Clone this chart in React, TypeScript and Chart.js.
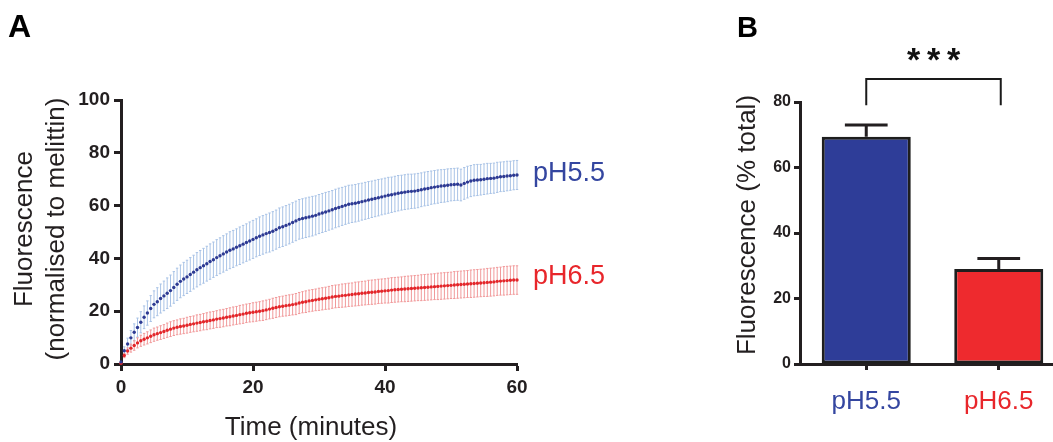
import React, { useEffect, useRef } from "react";
import { Chart, registerables } from "chart.js";
Chart.register(...registerables);

const FONT = "'Liberation Sans', Arial, Helvetica, sans-serif";
const INK = "#231f20";
const BLUE = "#2d3a93";
const RED = "#e3262a";
const BLUE_ERR = "#a9c3e6";
const RED_ERR = "#f19a9b";
const BLUE_TEXT = "#3446a0";
const RED_TEXT = "#e8262b";

// ---------- Panel A data ----------
const timeMinutes: number[] = [
  0, 0.5, 1, 1.5, 2, 2.5, 3, 3.5, 4, 4.5,
  5, 5.5, 6, 6.5, 7, 7.5, 8, 8.5, 9, 9.5,
  10, 10.5, 11, 11.5, 12, 12.5, 13, 13.5, 14, 14.5,
  15, 15.5, 16, 16.5, 17, 17.5, 18, 18.5, 19, 19.5,
  20, 20.5, 21, 21.5, 22, 22.5, 23, 23.5, 24, 24.5,
  25, 25.5, 26, 26.5, 27, 27.5, 28, 28.5, 29, 29.5,
  30, 30.5, 31, 31.5, 32, 32.5, 33, 33.5, 34, 34.5,
  35, 35.5, 36, 36.5, 37, 37.5, 38, 38.5, 39, 39.5,
  40, 40.5, 41, 41.5, 42, 42.5, 43, 43.5, 44, 44.5,
  45, 45.5, 46, 46.5, 47, 47.5, 48, 48.5, 49, 49.5,
  50, 50.5, 51, 51.5, 52, 52.5, 53, 53.5, 54, 54.5,
  55, 55.5, 56, 56.5, 57, 57.5, 58, 58.5, 59, 59.5,
  60,
];

const ph55Mean: number[] = [
  0.8, 5.0, 7.6, 9.9, 12.0, 13.8, 15.8, 17.7, 19.3, 21.0,
  22.6, 23.6, 24.8, 25.8, 26.8, 27.8, 29.0, 30.2, 31.3, 32.2,
  33.0, 33.9, 34.8, 35.7, 36.5, 37.2, 38.0, 38.8, 39.5, 40.3,
  41.0, 41.7, 42.4, 43.1, 43.6, 44.2, 44.8, 45.4, 46.0, 46.6,
  47.2, 47.8, 48.4, 48.9, 49.4, 49.8, 50.3, 50.9, 51.6, 52.0,
  52.5, 53.0, 53.6, 54.2, 54.8, 55.1, 55.4, 55.7, 56.0, 56.3,
  56.8, 57.2, 57.6, 58.0, 58.4, 58.9, 59.3, 59.7, 60.1, 60.5,
  60.7, 60.9, 61.2, 61.5, 61.8, 62.1, 62.4, 62.7, 63.0, 63.3,
  63.6, 63.9, 64.1, 64.4, 64.7, 64.9, 65.1, 65.3, 65.4, 65.5,
  65.7, 66.0, 66.3, 66.5, 66.8, 67.0, 67.2, 67.4, 67.5, 67.7,
  67.9, 68.0, 68.1, 67.8, 68.4, 68.9, 69.3, 69.6, 69.7, 69.8,
  70.0, 70.2, 70.3, 70.4, 70.7, 70.9, 71.0, 71.2, 71.3, 71.5,
  71.6,
];

const ph55Sd: number[] = [
  0.0, 1.5, 2.2, 2.8, 3.2, 3.6, 4.0, 4.3, 4.6, 4.9,
  5.1, 5.3, 5.5, 5.6, 5.8, 5.9, 6.0, 6.1, 6.2, 6.3,
  6.3, 6.4, 6.4, 6.5, 6.5, 6.6, 6.6, 6.7, 6.7, 6.8,
  6.8, 6.9, 6.9, 7.0, 7.0, 7.0, 7.1, 7.1, 7.1, 7.2,
  7.2, 7.2, 7.3, 7.3, 7.3, 7.4, 7.4, 7.4, 7.5, 7.5,
  7.5, 7.5, 7.5, 7.5, 7.5, 7.5, 7.5, 7.5, 7.5, 7.4,
  7.4, 7.4, 7.4, 7.3, 7.3, 7.3, 7.3, 7.2, 7.2, 7.2,
  7.1, 7.1, 7.1, 7.0, 7.0, 7.0, 6.9, 6.9, 6.9, 6.8,
  6.8, 6.8, 6.7, 6.7, 6.7, 6.6, 6.6, 6.6, 6.5, 6.5,
  6.5, 6.4, 6.4, 6.4, 6.3, 6.3, 6.3, 6.2, 6.2, 6.2,
  6.1, 6.1, 6.1, 6.0, 6.0, 6.0, 5.9, 5.9, 5.9, 5.8,
  5.8, 5.8, 5.7, 5.7, 5.7, 5.6, 5.6, 5.6, 5.5, 5.5,
  5.5,
];

const ph65Mean: number[] = [
  0.3, 3.2, 4.9, 6.0, 7.0, 8.0, 8.8, 9.4, 9.9, 10.5,
  11.1, 11.5, 11.9, 12.3, 12.8, 13.2, 13.6, 13.9, 14.2, 14.4,
  14.7, 15.0, 15.2, 15.5, 15.7, 16.0, 16.2, 16.5, 16.7, 17.0,
  17.2, 17.4, 17.7, 17.9, 18.2, 18.4, 18.7, 18.9, 19.2, 19.4,
  19.6, 19.8, 20.0, 20.2, 20.5, 20.8, 21.1, 21.4, 21.7, 21.9,
  22.1, 22.3, 22.5, 22.7, 23.1, 23.4, 23.6, 23.9, 24.1, 24.3,
  24.5, 24.7, 24.9, 25.1, 25.4, 25.6, 25.7, 25.9, 26.0, 26.2,
  26.3, 26.5, 26.6, 26.8, 26.9, 27.1, 27.2, 27.3, 27.5, 27.6,
  27.7, 27.8, 28.0, 28.1, 28.2, 28.3, 28.4, 28.5, 28.6, 28.7,
  28.8, 28.9, 29.0, 29.1, 29.2, 29.3, 29.4, 29.5, 29.6, 29.7,
  29.8, 29.9, 30.0, 30.1, 30.2, 30.3, 30.4, 30.5, 30.6, 30.7,
  30.8, 30.9, 31.0, 31.1, 31.3, 31.4, 31.5, 31.6, 31.7, 31.8,
  31.8,
];

const ph65Sd: number[] = [
  0.0, 0.8, 1.2, 1.5, 1.8, 1.9, 2.1, 2.2, 2.3, 2.4,
  2.5, 2.5, 2.6, 2.6, 2.7, 2.8, 2.8, 2.8, 2.9, 2.9,
  3.0, 3.0, 3.0, 3.1, 3.1, 3.1, 3.2, 3.2, 3.2, 3.2,
  3.3, 3.3, 3.3, 3.4, 3.4, 3.4, 3.5, 3.5, 3.5, 3.5,
  3.6, 3.6, 3.6, 3.7, 3.7, 3.7, 3.8, 3.8, 3.8, 3.8,
  3.9, 3.9, 3.9, 4.0, 4.0, 4.0, 4.1, 4.1, 4.1, 4.1,
  4.2, 4.2, 4.2, 4.3, 4.3, 4.3, 4.3, 4.4, 4.4, 4.4,
  4.4, 4.5, 4.5, 4.5, 4.5, 4.6, 4.6, 4.6, 4.6, 4.6,
  4.6, 4.7, 4.7, 4.7, 4.7, 4.7, 4.8, 4.8, 4.8, 4.8,
  4.8, 4.9, 4.9, 4.9, 4.9, 4.9, 5.0, 5.0, 5.0, 5.0,
  5.0, 5.1, 5.1, 5.1, 5.1, 5.1, 5.2, 5.2, 5.2, 5.2,
  5.2, 5.3, 5.3, 5.3, 5.3, 5.3, 5.4, 5.4, 5.4, 5.4,
  5.4,
];

const seriesNamesA: string[] = ["pH5.5", "pH6.5"];
const yTicksA: number[] = [0, 20, 40, 60, 80, 100];
const xTicksA: number[] = [0, 20, 40, 60];

// ---------- Panel B data ----------
const barLabels: string[] = ["pH5.5", "pH6.5"];
const barMeans: number[] = [69.4, 29.0];
const barErrors: number[] = [3.6, 3.2];
const yTicksB: number[] = [0, 20, 40, 60, 80];
const significance = "***";

// canvas placement on the page
const A_LEFT = 0;
const A_W = 640;
const B_LEFT = 690;
const B_W = 380;
const H = 442;

const errorBarsA = {
  id: "errorBarsA",
  beforeDatasetsDraw(chart: any) {
    const { ctx, scales } = chart;
    const x = scales.x;
    const y = scales.y;
    const sets: [number[], number[], string][] = [
      [ph55Mean, ph55Sd, BLUE_ERR],
      [ph65Mean, ph65Sd, RED_ERR],
    ];
    ctx.save();
    ctx.lineWidth = 1;
    for (const [mean, sd, col] of sets) {
      ctx.strokeStyle = col;
      ctx.beginPath();
      for (let i = 0; i < timeMinutes.length; i++) {
        if (sd[i] <= 0) continue;
        const px = x.getPixelForValue(timeMinutes[i]);
        const top = y.getPixelForValue(mean[i] + sd[i]);
        const bot = y.getPixelForValue(Math.max(0, mean[i] - sd[i]));
        ctx.moveTo(px, top);
        ctx.lineTo(px, bot);
        ctx.moveTo(px - 1.2, top);
        ctx.lineTo(px + 1.2, top);
        ctx.moveTo(px - 1.2, bot);
        ctx.lineTo(px + 1.2, bot);
      }
      ctx.stroke();
    }
    ctx.restore();
  },
  afterDraw(chart: any) {
    const { ctx, scales, chartArea } = chart;
    const y = scales.y;
    ctx.save();
    // panel letter
    ctx.fillStyle = "#000";
    ctx.font = `bold 32px ${FONT}`;
    ctx.textAlign = "left";
    ctx.textBaseline = "alphabetic";
    ctx.fillText("A", 8 - A_LEFT, 37);
    // series labels at line ends
    ctx.font = `27px ${FONT}`;
    ctx.textBaseline = "middle";
    const last = timeMinutes.length - 1;
    ctx.fillStyle = BLUE_TEXT;
    ctx.fillText(seriesNamesA[0], chartArea.right + 16, y.getPixelForValue(ph55Mean[last]) - 1);
    ctx.fillStyle = RED_TEXT;
    ctx.fillText(seriesNamesA[1], chartArea.right + 16, y.getPixelForValue(ph65Mean[last]) - 4);
    // axis titles
    ctx.fillStyle = INK;
    ctx.font = `26px ${FONT}`;
    ctx.textAlign = "center";
    ctx.fillText("Time (minutes)", (chartArea.left + chartArea.right) / 2 - 8, 428);
    ctx.translate(25 - A_LEFT, 229);
    ctx.rotate(-Math.PI / 2);
    ctx.fillText("Fluorescence", 0, 0);
    ctx.fillText("(normalised to melittin)", 0, 32);
    ctx.restore();
  },
};

const barDecorB = {
  id: "barDecorB",
  afterDatasetsDraw(chart: any) {
    const { ctx, scales } = chart;
    const y = scales.y;
    const meta = chart.getDatasetMeta(0);
    ctx.save();
    ctx.strokeStyle = INK;
    ctx.lineWidth = 3;
    meta.data.forEach((bar: any, i: number) => {
      const top = y.getPixelForValue(barMeans[i] + barErrors[i]);
      const base = y.getPixelForValue(barMeans[i]);
      const half = bar.width * 0.24;
      ctx.beginPath();
      ctx.moveTo(bar.x, base);
      ctx.lineTo(bar.x, top);
      ctx.moveTo(bar.x - half, top);
      ctx.lineTo(bar.x + half, top);
      ctx.stroke();
    });
    // significance bracket
    const x0 = meta.data[0].x;
    const x1 = meta.data[1].x + 2;
    const yTop = y.getPixelForValue(87);
    const yEnd = y.getPixelForValue(79);
    ctx.lineWidth = 2;
    ctx.strokeStyle = "#1a1a1a";
    ctx.beginPath();
    ctx.moveTo(x0, yEnd);
    ctx.lineTo(x0, yTop);
    ctx.lineTo(x1, yTop);
    ctx.lineTo(x1, yEnd);
    ctx.stroke();
    ctx.fillStyle = "#111";
    ctx.font = `bold 34px ${FONT}`;
    ctx.textAlign = "center";
    ctx.textBaseline = "middle";
    const mid = (x0 + x1) / 2;
    const chars = significance.split("");
    chars.forEach((c, i) => {
      ctx.fillText(c, mid + (i - (chars.length - 1) / 2) * 20, y.getPixelForValue(92.3));
    });
    ctx.restore();
  },
  afterDraw(chart: any) {
    const { ctx } = chart;
    ctx.save();
    ctx.fillStyle = "#000";
    ctx.font = `bold 29px ${FONT}`;
    ctx.textAlign = "left";
    ctx.textBaseline = "alphabetic";
    ctx.fillText("B", 737 - B_LEFT, 37);
    ctx.fillStyle = INK;
    ctx.font = `26px ${FONT}`;
    ctx.textAlign = "center";
    ctx.textBaseline = "middle";
    ctx.translate(748 - B_LEFT, 225);
    ctx.rotate(-Math.PI / 2);
    ctx.fillText("Fluorescence (% total)", 0, 0);
    ctx.restore();
  },
};

function PanelA() {
  const ref = useRef<HTMLCanvasElement | null>(null);
  useEffect(() => {
    if (!ref.current) return;
    const chart = new Chart(ref.current, {
      type: "scatter",
      data: {
        datasets: [
          {
            label: seriesNamesA[0],
            data: timeMinutes.map((t, i) => ({ x: t, y: ph55Mean[i] })),
            pointRadius: 1.7,
            pointBorderWidth: 0,
            pointBackgroundColor: BLUE,
            showLine: false,
            clip: false as any,
          },
          {
            label: seriesNamesA[1],
            data: timeMinutes.map((t, i) => ({ x: t, y: ph65Mean[i] })),
            pointRadius: 1.7,
            pointBorderWidth: 0,
            pointBackgroundColor: RED,
            showLine: false,
            clip: false as any,
          },
        ],
      },
      options: {
        animation: false,
        responsive: false,
        layout: { padding: { left: 0, right: A_W - 517, top: 100, bottom: 0 } },
        plugins: { legend: { display: false }, tooltip: { enabled: false } },
        scales: {
          x: {
            type: "linear",
            min: 0,
            max: 60,
            afterBuildTicks: (s: any) => {
              s.ticks = xTicksA.map((v) => ({ value: v }));
            },
            afterFit: (s: any) => {
              s.height = H - 364;
            },
            ticks: {
              color: INK,
              font: { family: FONT, size: 19, weight: "bold" },
              padding: 5,
              maxRotation: 0,
            },
            grid: { drawOnChartArea: false, drawTicks: true, tickLength: 7, tickWidth: 3, tickColor: INK },
            border: { display: true, width: 3, color: INK },
          },
          y: {
            type: "linear",
            min: 0,
            max: 100,
            afterBuildTicks: (s: any) => {
              s.ticks = yTicksA.map((v) => ({ value: v }));
            },
            afterFit: (s: any) => {
              s.width = 121;
            },
            ticks: {
              color: INK,
              font: { family: FONT, size: 19, weight: "bold" },
              padding: 4,
            },
            grid: { drawOnChartArea: false, drawTicks: true, tickLength: 7, tickWidth: 3, tickColor: INK },
            border: { display: true, width: 3, color: INK },
          },
        },
      } as any,
      plugins: [errorBarsA],
    });
    return () => chart.destroy();
  }, []);
  return (
    <canvas
      ref={ref}
      width={A_W}
      height={H}
      style={{ position: "absolute", left: A_LEFT, top: 0, width: A_W, height: H }}
    />
  );
}

function PanelB() {
  const ref = useRef<HTMLCanvasElement | null>(null);
  useEffect(() => {
    if (!ref.current) return;
    const chart = new Chart(ref.current, {
      type: "bar",
      data: {
        labels: barLabels,
        datasets: [
          {
            data: barMeans,
            backgroundColor: ["#2e3d98", "#ee2a2e"],
            borderColor: "#1e1e1e",
            borderWidth: 3,
            borderSkipped: false,
            categoryPercentage: 1,
            barPercentage: 0.672,
          },
        ],
      },
      options: {
        animation: false,
        responsive: false,
        layout: { padding: { left: 0, right: 5, top: 102, bottom: 0 } },
        plugins: { legend: { display: false }, tooltip: { enabled: false } },
        scales: {
          x: {
            type: "category",
            offset: true,
            afterFit: (s: any) => {
              s.height = H - 364;
            },
            ticks: {
              color: (c: any) => [BLUE_TEXT, RED_TEXT][c.index],
              font: { family: FONT, size: 26 },
              padding: 16,
              maxRotation: 0,
            },
            grid: { offset: false, drawOnChartArea: false, drawTicks: true, tickLength: 6, tickWidth: 3, tickColor: INK },
            border: { display: true, width: 3, color: INK },
          },
          y: {
            type: "linear",
            min: 0,
            max: 80,
            afterBuildTicks: (s: any) => {
              s.ticks = yTicksB.map((v) => ({ value: v }));
            },
            afterFit: (s: any) => {
              s.width = 800 - B_LEFT;
            },
            ticks: {
              color: INK,
              font: { family: FONT, size: 16, weight: "bold" },
              padding: 3,
            },
            grid: { drawOnChartArea: false, drawTicks: true, tickLength: 6, tickWidth: 3, tickColor: INK },
            border: { display: true, width: 3, color: INK },
          },
        },
      } as any,
      plugins: [barDecorB],
    });
    return () => chart.destroy();
  }, []);
  return (
    <canvas
      ref={ref}
      width={B_W}
      height={H}
      style={{ position: "absolute", left: B_LEFT, top: 0, width: B_W, height: H }}
    />
  );
}

export default function App() {
  return (
    <div
      style={{
        position: "absolute",
        left: 0,
        top: 0,
        width: 1053,
        height: H,
        overflow: "hidden",
        background: "#ffffff",
      }}
    >
      <PanelA />
      <PanelB />
    </div>
  );
}
